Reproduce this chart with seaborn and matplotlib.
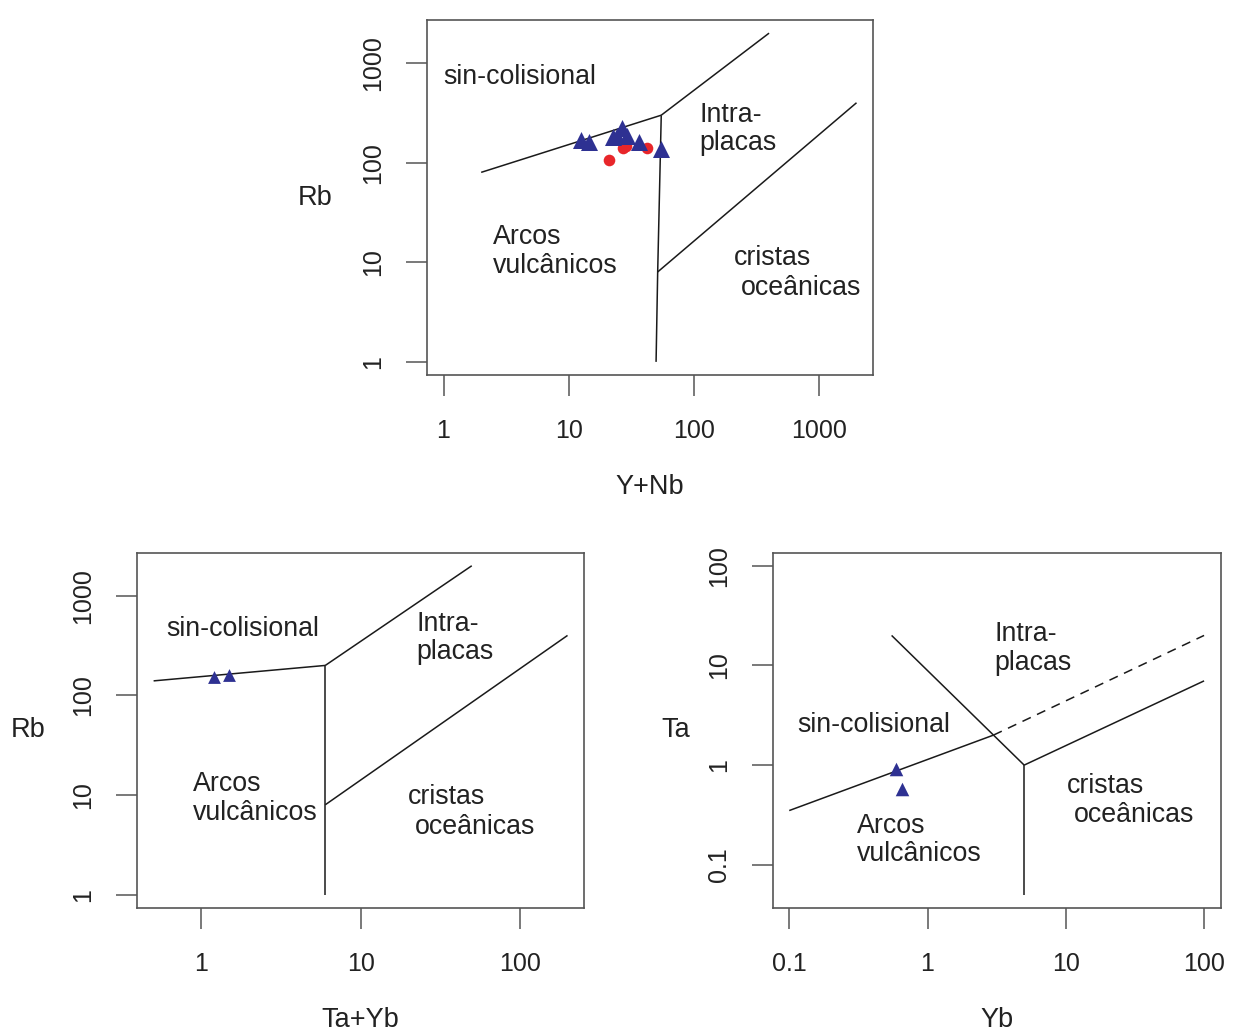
import numpy as np
import pandas as pd
import matplotlib
matplotlib.use("Agg")
import matplotlib.pyplot as plt
import seaborn as sns

# Pearce et al. (1984) discrimination diagrams

# --- sample data ---
rb_ynb_tri_x = [12.5, 14.6, 22.5, 24.5, 26.5, 29.5, 36.5, 55.0]
rb_ynb_tri_y = [169, 160, 182, 186, 222, 186, 160, 137]
rb_ynb_dot_x = [21.0, 27.0, 29.0, 42.5]
rb_ynb_dot_y = [106, 139, 148, 139]

rb_tayb_tri_x = [1.2, 1.49]
rb_tayb_tri_y = [154, 161]

ta_yb_tri_x = [0.595, 0.658]
ta_yb_tri_y = [0.906, 0.571]

# --- field boundaries ---
# Rb vs Y+Nb
ynb_colg_vag_x = [2, 55]
ynb_colg_vag_y = [80, 300]
ynb_wpg_x = [55, 400]
ynb_wpg_y = [300, 2000]
ynb_vag_org_x = [55, 51.5, 50]
ynb_vag_org_y = [300, 8, 1]
ynb_org_wpg_x = [51.5, 2000]
ynb_org_wpg_y = [8, 400]

# Rb vs Ta+Yb
tayb_colg_vag_x = [0.5, 6]
tayb_colg_vag_y = [140, 200]
tayb_wpg_x = [6, 50]
tayb_wpg_y = [200, 2000]
tayb_vag_org_x = [6, 6]
tayb_vag_org_y = [200, 1]
tayb_org_wpg_x = [6, 200]
tayb_org_wpg_y = [8, 400]

# Ta vs Yb
yb_colg_vag_x = [0.1, 3]
yb_colg_vag_y = [0.35, 2]
yb_dash_x = [3, 100]
yb_dash_y = [2, 20]
yb_colg_wpg_x = [0.55, 3, 5]
yb_colg_wpg_y = [20, 2, 1]
yb_org_wpg_x = [5, 100]
yb_org_wpg_y = [1, 7]
yb_vag_org_x = [5, 5]
yb_vag_org_y = [1, 0.05]

# field names
field_names = ["sin-colisional", "Intra-", "placas", "Arcos", "vulcânicos",
               "cristas", "oceânicas"]

# tick labels
ticks_1_2000 = [1, 10, 100, 1000]
ticks_tayb_x = [1, 10, 100]
ticks_yb_x = [0.1, 1, 10, 100]
ticks_ta_y = [0.1, 1, 10, 100]

sns.set_theme(style="ticks")
plt.rcParams["font.family"] = ["Liberation Sans", "DejaVu Sans"]

TRI = "#2E3192"
RED = "#E8262A"
LINE = "#1a1a1a"
BOX = "#555555"


def r_lim(lo, hi):
    a, b = np.log10(lo), np.log10(hi)
    d = (b - a) * 0.04
    return 10 ** (a - d), 10 ** (b + d)


def style_axes(ax, xr, yr, xt, yt, xlab, ylab, ylab_x):
    ax.set_xscale("log")
    ax.set_yscale("log")
    ax.set_xlim(*r_lim(*xr))
    ax.set_ylim(*r_lim(*yr))
    ax.set_xticks(xt, [f"{t:g}" for t in xt])
    ax.set_yticks(yt, [f"{t:g}" for t in yt])
    ax.minorticks_off()
    for s in ax.spines.values():
        s.set_visible(True)
        s.set_color(BOX)
        s.set_linewidth(1.2)
    ax.tick_params(axis="both", length=15, width=1.1, color=BOX,
                   labelsize=18, labelcolor="#222222")
    ax.tick_params(axis="x", pad=17)
    ax.tick_params(axis="y", pad=15)
    for lab in ax.get_yticklabels():
        lab.set_rotation(90)
        lab.set_va("center")
        lab.set_ha("right")
    ax.set_xlabel(xlab, fontsize=19.5, color="#222222", va="center")
    ax.set_ylabel(ylab, fontsize=19.5, color="#222222", rotation=0,
                  va="center", ha="center")
    ax.xaxis.set_label_coords(0.5, -0.315)
    ax.yaxis.set_label_coords(ylab_x, 0.5)
    ax.grid(False)


def draw(ax, xs, ys, ls="-"):
    ax.plot(xs, ys, color=LINE, lw=1.1, ls=ls, solid_capstyle="butt")


def label(ax, x, y, s):
    ax.text(x, y, s, fontsize=19.3, color="#222222", ha="left", va="baseline")


fig = plt.figure(figsize=(12.38, 10.36), dpi=100)
ax1 = fig.add_axes([0.3449, 0.6380, 0.3603, 0.3427])
ax2 = fig.add_axes([0.1107, 0.1236, 0.3611, 0.3430])
ax3 = fig.add_axes([0.6241, 0.1236, 0.3619, 0.3430])

# --- Rb vs Y+Nb ---
draw(ax1, ynb_colg_vag_x, ynb_colg_vag_y)
draw(ax1, ynb_wpg_x, ynb_wpg_y)
draw(ax1, ynb_vag_org_x, ynb_vag_org_y)
draw(ax1, ynb_org_wpg_x, ynb_org_wpg_y)
sns.scatterplot(x=rb_ynb_dot_x, y=rb_ynb_dot_y, ax=ax1, color=RED, marker="o",
                s=70, edgecolor=RED, linewidth=0, legend=False, zorder=3)
sns.scatterplot(x=rb_ynb_tri_x, y=rb_ynb_tri_y, ax=ax1, color=TRI, marker="^",
                s=150, edgecolor=TRI, linewidth=0, legend=False, zorder=4)
style_axes(ax1, (1, 2000), (1, 2000), ticks_1_2000, ticks_1_2000,
           "Y+Nb", "Rb", -0.251)
label(ax1, 1.0, 621, field_names[0])
label(ax1, 111, 257, field_names[1])
label(ax1, 111, 134, field_names[2])
label(ax1, 2.48, 15.4, field_names[3])
label(ax1, 2.48, 7.89, field_names[4])
label(ax1, 210, 9.33, field_names[5])
label(ax1, 238, 4.68, field_names[6])

# --- Rb vs Ta+Yb ---
draw(ax2, tayb_colg_vag_x, tayb_colg_vag_y)
draw(ax2, tayb_wpg_x, tayb_wpg_y)
draw(ax2, tayb_vag_org_x, tayb_vag_org_y)
draw(ax2, tayb_org_wpg_x, tayb_org_wpg_y)
sns.scatterplot(x=rb_tayb_tri_x, y=rb_tayb_tri_y, ax=ax2, color=TRI, marker="^",
                s=85, edgecolor=TRI, linewidth=0, legend=False, zorder=4)
style_axes(ax2, (0.5, 200), (1, 2000), ticks_tayb_x, ticks_1_2000,
           "Ta+Yb", "Rb", -0.244)
label(ax2, 0.598, 396, field_names[0])
label(ax2, 22.5, 444, field_names[1])
label(ax2, 22.5, 231, field_names[2])
label(ax2, 0.878, 11.0, field_names[3])
label(ax2, 0.878, 5.61, field_names[4])
label(ax2, 19.7, 8.12, field_names[5])
label(ax2, 22.0, 4.12, field_names[6])

# --- Ta vs Yb ---
draw(ax3, yb_colg_vag_x, yb_colg_vag_y)
draw(ax3, yb_dash_x, yb_dash_y, ls=(0, (6, 4.5)))
draw(ax3, yb_colg_wpg_x, yb_colg_wpg_y)
draw(ax3, yb_org_wpg_x, yb_org_wpg_y)
draw(ax3, yb_vag_org_x, yb_vag_org_y)
sns.scatterplot(x=ta_yb_tri_x, y=ta_yb_tri_y, ax=ax3, color=TRI, marker="^",
                s=95, edgecolor=TRI, linewidth=0, legend=False, zorder=4)
style_axes(ax3, (0.1, 100), (0.05, 100), ticks_yb_x, ticks_ta_y,
           "Yb", "Ta", -0.217)
label(ax3, 0.115, 2.15, field_names[0])
label(ax3, 3.05, 17.4, field_names[1])
label(ax3, 3.05, 9.06, field_names[2])
label(ax3, 0.31, 0.21, field_names[3])
label(ax3, 0.31, 0.108, field_names[4])
label(ax3, 10.2, 0.528, field_names[5])
label(ax3, 11.4, 0.271, field_names[6])

fig.savefig("out.png", dpi=100, facecolor="white")
